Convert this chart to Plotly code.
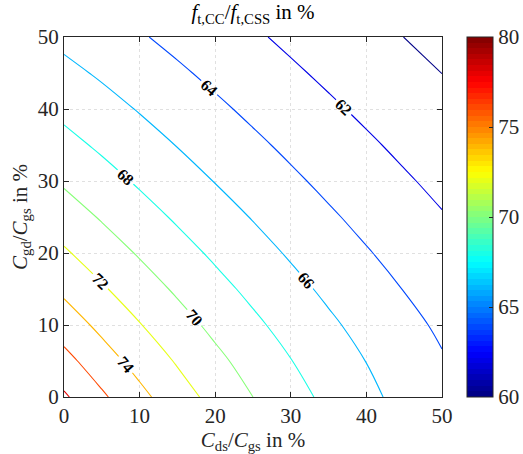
import plotly.graph_objects as go

# Axis samples (in %)
cds_cgs = [0, 5, 10, 15, 20, 25, 30, 35, 40, 45, 50]   # x: C_ds/C_gs
cgd_cgs = [0, 5, 10, 15, 20, 25, 30, 35, 40, 45, 50]   # y: C_gd/C_gs

# f_t,CC / f_t,CSS in % (rows: C_gd/C_gs, columns: C_ds/C_gs), estimated from the contours
ratio_y0  = [78.28, 76.31, 74.52, 72.88, 71.38, 70.00, 68.72, 67.54, 66.45, 65.43, 64.48]
ratio_y5  = [76.62, 74.88, 73.29, 71.82, 70.47, 69.22, 68.05, 66.97, 65.97, 65.03, 64.15]
ratio_y10 = [75.06, 73.52, 72.09, 70.76, 69.53, 68.38, 67.31, 66.32, 65.39, 64.52, 63.70]
ratio_y15 = [73.61, 72.22, 70.93, 69.72, 68.59, 67.54, 66.55, 65.63, 64.77, 63.95, 63.19]
ratio_y20 = [72.24, 70.99, 69.82, 68.72, 67.68, 66.71, 65.79, 64.94, 64.13, 63.37, 62.65]
ratio_y25 = [70.96, 69.83, 68.76, 67.75, 66.80, 65.90, 65.05, 64.25, 63.49, 62.78, 62.11]
ratio_y30 = [69.75, 68.73, 67.75, 66.82, 65.94, 65.11, 64.32, 63.57, 62.87, 62.20, 61.57]
ratio_y35 = [68.60, 67.68, 66.79, 65.94, 65.12, 64.35, 63.62, 62.92, 62.26, 61.63, 61.03]
ratio_y40 = [67.53, 66.69, 65.88, 65.09, 64.34, 63.62, 62.93, 62.28, 61.66, 61.07, 60.51]
ratio_y45 = [66.50, 65.75, 65.00, 64.28, 63.58, 62.91, 62.27, 61.66, 61.08, 60.52, 59.99]
ratio_y50 = [65.53, 64.85, 64.17, 63.50, 62.86, 62.24, 61.64, 61.07, 60.52, 59.99, 59.49]

ratio = [ratio_y0, ratio_y5, ratio_y10, ratio_y15, ratio_y20, ratio_y25,
         ratio_y30, ratio_y35, ratio_y40, ratio_y45, ratio_y50]

level_start, level_end, level_step = 60, 80, 2
cbar_ticks = [60, 65, 70, 75, 80]
axis_ticks = [0, 10, 20, 30, 40, 50]

# MATLAB-like jet colormap, 64 discrete steps
def jet(t):
    def ch(t, c):
        return max(0.0, min(1.0, 1.5 - abs(4 * t - c)))
    return (ch(t, 3), ch(t, 2), ch(t, 1))

N = 64
jet_scale = []
for i in range(N):
    r, g, b = jet((i + 0.5) / N)
    col = "rgb(%d,%d,%d)" % (round(r * 255), round(g * 255), round(b * 255))
    jet_scale.append([i / N, col])
    jet_scale.append([(i + 1) / N, col])

FONT = "Liberation Serif"
TXT = "#262626"
FS = 21

fig = go.Figure()
fig.add_trace(go.Contour(
    x=cds_cgs, y=cgd_cgs, z=ratio,
    zmin=level_start, zmax=level_end, colorscale=jet_scale,
    contours=dict(coloring="lines", start=level_start, end=level_end, size=level_step,
                  showlabels=True,
                  labelfont=dict(family=FONT, size=16, color="black", weight="bold")),
    line=dict(width=1.1, smoothing=1),
    showscale=False, hoverinfo="skip",
))
fig.add_trace(go.Scatter(
    x=[None], y=[None], mode="markers", showlegend=False, hoverinfo="skip",
    marker=dict(color=[level_start, level_end], cmin=level_start, cmax=level_end,
                colorscale=jet_scale, showscale=True,
                colorbar=dict(thickness=26, len=360, lenmode="pixels",
                              x=1.066, xanchor="left", y=0.5, yanchor="middle",
                              xpad=0, ypad=0,
                              outlinewidth=1, outlinecolor="#262626",
                              tickvals=cbar_ticks, ticks="inside", ticklen=4,
                              tickcolor="#262626",
                              tickfont=dict(family=FONT, size=FS, color=TXT))),
))

axis_common = dict(range=[0, 50], tickvals=axis_ticks, ticks="inside", ticklen=5,
                   tickcolor="#262626", showline=True, linecolor="#262626", linewidth=1,
                   mirror="allticks", showgrid=True, gridcolor="#e0e0e0", griddash="dot",
                   gridwidth=1, zeroline=False,
                   tickfont=dict(family=FONT, size=FS, color=TXT))

fig.update_xaxes(**axis_common,
                 title=dict(text="<i>C</i><sub>ds</sub>/<i>C</i><sub>gs</sub> in %",
                            font=dict(family=FONT, size=FS, color=TXT), standoff=2))
fig.update_yaxes(**axis_common,
                 title=dict(text="<i>C</i><sub>gd</sub>/<i>C</i><sub>gs</sub> in %",
                            font=dict(family=FONT, size=FS, color=TXT), standoff=4))

fig.update_layout(
    width=523, height=454,
    margin=dict(l=64, r=81, t=37, b=57, autoexpand=False),
    paper_bgcolor="white", plot_bgcolor="white",
    title=dict(text="<i>f</i><sub>t,CC</sub>/<i>f</i><sub>t,CSS</sub> in %",
               font=dict(family=FONT, size=FS, color="black"),
               x=(64 + 442) / 2 / 523, xanchor="center",
               y=1 - 12 / 454, yanchor="middle", yref="container"),
    showlegend=False,
)

fig.write_html("out.html")
